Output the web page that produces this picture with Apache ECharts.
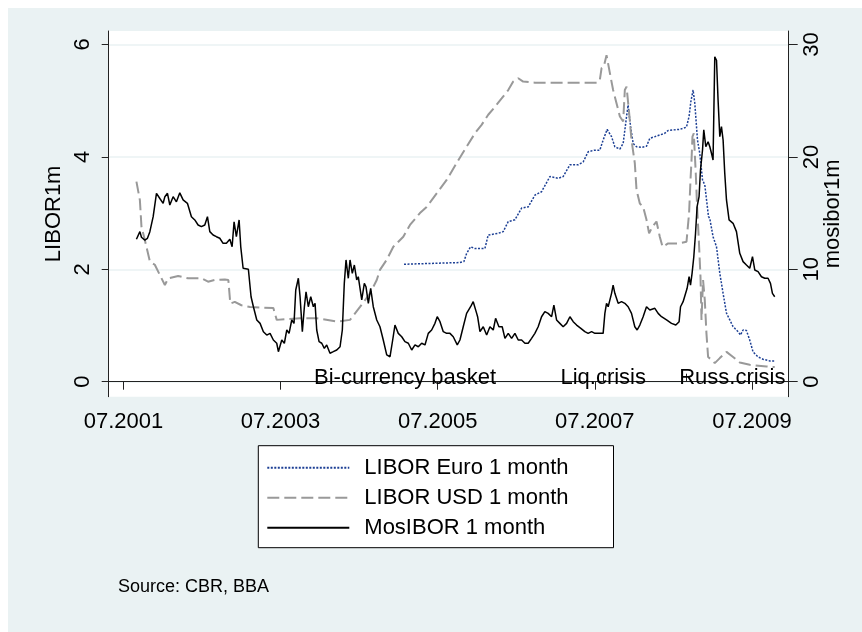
<!DOCTYPE html>
<html>
<head>
<meta charset="utf-8">
<script src="https://cdn.jsdelivr.net/npm/echarts@6.0.0/dist/echarts.min.js"></script>
<style>
  html, body { margin: 0; padding: 0; background: #fff; }
  #chart { position: absolute; left: 8px; top: 8px; width: 854px; height: 624px; }
</style>
</head>
<body>
<div id="chart"></div>
<script>
// time is in decimal years, rates in percent
const seriesNames = ['LIBOR Euro 1 month', 'LIBOR USD 1 month', 'MosIBOR 1 month']
const sourceNote = 'Source: CBR, BBA'

const xTicks = [2001.5, 2003.5, 2005.5, 2007.5, 2009.5]
const leftTicks = [0, 2, 4, 6]
const rightTicks = [0, 10, 20, 30]
const eventTimes = [2005.085, 2007.607, 2008.665]
const eventNames = ['Bi-currency basket', 'Liq.crisis', 'Russ.crisis']

const liborEuro = [
  [2005.071,2.09],[2005.783,2.12],[2005.834,2.14],[2005.868,2.28],[2005.919,2.4],[2005.974,2.37],
  [2006.101,2.37],[2006.143,2.61],[2006.27,2.64],[2006.334,2.67],[2006.398,2.85],[2006.483,2.88],
  [2006.568,3.09],[2006.652,3.11],[2006.737,3.32],[2006.822,3.38],[2006.928,3.65],[2007.034,3.62],
  [2007.097,3.65],[2007.183,3.86],[2007.288,3.86],[2007.352,3.91],[2007.415,4.09],[2007.492,4.12],
  [2007.564,4.12],[2007.606,4.3],[2007.657,4.49],[2007.713,4.36],[2007.755,4.18],[2007.819,4.14],
  [2007.861,4.24],[2007.904,4.72],[2007.924,4.92],[2007.955,4.54],[2007.988,4.24],[2008.031,4.18],
  [2008.095,4.17],[2008.158,4.19],[2008.2,4.33],[2008.264,4.36],[2008.327,4.39],[2008.391,4.42],
  [2008.433,4.47],[2008.497,4.48],[2008.582,4.49],[2008.667,4.53],[2008.7,4.72],[2008.722,4.98],
  [2008.751,5.19],[2008.773,4.95],[2008.807,4.3],[2008.836,4.06],[2008.871,3.59],[2008.9,3.5],
  [2008.921,3.25],[2008.947,2.94],[2008.964,2.9],[2009.005,2.58],[2009.049,2.4],[2009.091,1.93],
  [2009.133,1.57],[2009.176,1.22],[2009.218,1.1],[2009.26,0.98],[2009.324,0.89],[2009.354,0.83],
  [2009.387,0.92],[2009.43,0.91],[2009.472,0.74],[2009.514,0.53],[2009.578,0.44],[2009.641,0.4],
  [2009.727,0.37],[2009.79,0.37]
]

const liborUsd = [
  [2001.665,3.56],[2001.709,3.23],[2001.729,2.76],[2001.772,2.52],[2001.836,2.14],[2001.899,2.08],
  [2001.963,1.9],[2002.027,1.72],[2002.069,1.84],[2002.196,1.88],[2002.323,1.84],[2002.492,1.84],
  [2002.577,1.78],[2002.663,1.81],[2002.79,1.82],[2002.835,1.81],[2002.86,1.39],[2002.917,1.42],
  [2003.001,1.36],[2003.112,1.33],[2003.408,1.31],[2003.451,1.1],[2003.748,1.13],[2003.96,1.13],
  [2004.215,1.07],[2004.384,1.1],[2004.511,1.33],[2004.638,1.57],[2004.724,1.81],[2004.765,1.99],
  [2004.851,2.17],[2004.935,2.4],[2005.062,2.58],[2005.147,2.79],[2005.274,3.0],[2005.359,3.11],
  [2005.487,3.35],[2005.614,3.59],[2005.741,3.89],[2005.868,4.18],[2005.974,4.42],[2006.059,4.57],
  [2006.143,4.75],[2006.228,4.89],[2006.314,5.04],[2006.398,5.19],[2006.461,5.34],[2006.525,5.4],
  [2006.588,5.34],[2006.737,5.32],[2007.034,5.32],[2007.415,5.32],[2007.535,5.32],[2007.564,5.37],
  [2007.586,5.58],[2007.615,5.61],[2007.649,5.81],[2007.67,5.78],[2007.7,5.43],[2007.733,5.19],
  [2007.777,4.95],[2007.819,4.72],[2007.861,4.63],[2007.882,5.19],[2007.904,5.25],[2007.937,4.78],
  [2007.967,4.3],[2008.009,3.89],[2008.031,3.41],[2008.073,3.17],[2008.115,3.11],[2008.158,2.88],
  [2008.191,2.64],[2008.235,2.76],[2008.285,2.85],[2008.327,2.58],[2008.362,2.4],[2008.433,2.46],
  [2008.56,2.46],[2008.667,2.49],[2008.7,3.0],[2008.718,3.59],[2008.731,3.94],[2008.743,4.36],
  [2008.76,4.42],[2008.785,3.71],[2008.802,3.11],[2008.824,2.52],[2008.845,1.87],[2008.858,1.1],
  [2008.878,1.81],[2008.9,1.45],[2008.921,0.86],[2008.942,0.44],[2008.985,0.39],[2009.027,0.33],
  [2009.091,0.42],[2009.176,0.53],[2009.26,0.44],[2009.345,0.34],[2009.472,0.3],[2009.685,0.27],
  [2009.79,0.26]
]

const mosibor = [
  [2001.665,12.67],[2001.709,13.35],[2001.729,12.85],[2001.772,12.6],[2001.805,12.76],[2001.836,13.35],
  [2001.878,14.68],[2001.92,16.76],[2001.963,16.3],[2002.005,15.87],[2002.027,16.46],[2002.06,16.76],
  [2002.09,15.72],[2002.132,16.46],[2002.174,16.0],[2002.217,16.8],[2002.259,16.17],[2002.314,15.87],
  [2002.365,14.68],[2002.408,14.39],[2002.45,13.94],[2002.492,13.79],[2002.535,13.94],[2002.569,14.68],
  [2002.599,13.35],[2002.641,13.05],[2002.683,12.9],[2002.726,12.76],[2002.768,12.31],[2002.81,12.31],
  [2002.854,12.67],[2002.883,12.0],[2002.908,14.23],[2002.937,12.9],[2002.972,14.39],[2002.993,12.0],
  [2003.023,10.09],[2003.048,10.2],[2003.09,10.0],[2003.124,7.56],[2003.154,6.67],[2003.197,5.49],
  [2003.239,5.19],[2003.281,4.45],[2003.324,4.15],[2003.366,4.3],[2003.408,3.71],[2003.451,3.42],
  [2003.472,2.67],[2003.515,3.71],[2003.548,3.42],[2003.579,4.6],[2003.608,4.3],[2003.642,5.49],
  [2003.671,5.19],[2003.693,8.16],[2003.726,9.2],[2003.748,7.56],[2003.777,4.45],[2003.803,6.67],
  [2003.824,8.0],[2003.853,6.67],[2003.884,7.56],[2003.917,6.67],[2003.939,6.97],[2003.96,4.6],
  [2003.99,3.56],[2004.024,3.42],[2004.057,2.97],[2004.087,3.27],[2004.129,2.53],[2004.171,2.67],
  [2004.215,2.82],[2004.257,3.11],[2004.286,4.6],[2004.311,8.75],[2004.333,10.83],[2004.362,9.2],
  [2004.384,10.83],[2004.413,9.64],[2004.439,10.38],[2004.469,9.05],[2004.489,9.34],[2004.533,7.27],
  [2004.566,8.75],[2004.587,8.45],[2004.617,6.97],[2004.647,8.31],[2004.68,6.67],[2004.724,5.49],
  [2004.765,4.89],[2004.807,3.71],[2004.851,2.38],[2004.893,2.22],[2004.927,3.71],[2004.956,5.04],
  [2004.998,4.3],[2005.042,4.0],[2005.083,3.56],[2005.126,3.42],[2005.169,2.82],[2005.211,3.27],
  [2005.253,3.11],[2005.296,3.42],[2005.338,3.27],[2005.38,4.3],[2005.423,4.6],[2005.465,5.19],
  [2005.494,5.78],[2005.529,5.34],[2005.571,4.45],[2005.614,4.3],[2005.656,4.3],[2005.698,4.0],
  [2005.749,3.27],[2005.783,3.71],[2005.825,4.89],[2005.868,6.08],[2005.919,6.67],[2005.952,7.12],
  [2005.996,6.08],[2006.008,5.78],[2006.038,4.45],[2006.08,4.89],[2006.123,4.15],[2006.165,4.89],
  [2006.207,4.6],[2006.237,5.64],[2006.279,4.89],[2006.321,4.89],[2006.356,3.86],[2006.398,4.3],
  [2006.441,3.86],[2006.483,4.3],[2006.525,3.71],[2006.568,3.71],[2006.61,3.42],[2006.652,3.42],
  [2006.695,3.86],[2006.737,4.3],[2006.779,4.89],[2006.822,5.78],[2006.864,6.23],[2006.906,6.08],
  [2006.95,5.78],[2006.979,6.82],[2007.013,5.49],[2007.055,5.19],[2007.097,4.89],[2007.141,5.19],
  [2007.183,5.78],[2007.225,5.34],[2007.268,5.04],[2007.322,4.75],[2007.373,4.45],[2007.415,4.3],
  [2007.459,4.45],[2007.501,4.3],[2007.564,4.3],[2007.606,4.3],[2007.628,6.08],[2007.649,6.97],
  [2007.67,6.67],[2007.713,7.86],[2007.733,8.6],[2007.755,7.86],[2007.797,6.97],[2007.84,7.12],
  [2007.882,6.97],[2007.924,6.67],[2007.967,6.08],[2008.009,4.89],[2008.039,4.6],[2008.073,5.04],
  [2008.115,5.78],[2008.158,6.67],[2008.2,6.38],[2008.264,6.53],[2008.306,6.08],[2008.349,5.78],
  [2008.413,5.49],[2008.476,5.19],[2008.531,5.04],[2008.573,5.34],[2008.591,6.67],[2008.624,7.12],
  [2008.675,8.31],[2008.7,9.34],[2008.718,8.6],[2008.738,9.64],[2008.76,11.12],[2008.782,13.2],
  [2008.802,15.57],[2008.827,16.46],[2008.845,18.83],[2008.871,20.61],[2008.887,22.4],[2008.913,20.9],
  [2008.942,21.35],[2008.964,20.9],[2008.985,20.32],[2009.005,19.72],[2009.027,28.9],[2009.049,28.6],
  [2009.069,25.06],[2009.091,21.8],[2009.112,22.69],[2009.133,21.5],[2009.154,18.54],[2009.176,16.17],
  [2009.209,14.39],[2009.26,14.09],[2009.303,13.35],[2009.345,11.42],[2009.387,10.68],[2009.43,10.38],
  [2009.472,10.09],[2009.507,11.12],[2009.536,9.94],[2009.578,9.79],[2009.621,9.34],[2009.663,9.2],
  [2009.705,9.2],[2009.736,8.75],[2009.761,7.86],[2009.79,7.56]
]

const FONT = '"Liberation Sans", Arial, Helvetica, sans-serif'
const AXIS_COLOR = '#222'
const GRID_COLOR = '#EAF2F3'

// decimal year -> "MM.YYYY"
function monthYear(v) {
  let year = Math.floor(v + 1e-6)
  let month = Math.round((v - year) * 12) + 1
  return (month < 10 ? '0' : '') + month + '.' + year
}

let chart = echarts.init(document.getElementById('chart'))
chart.setOption({
  backgroundColor: GRID_COLOR,
  animation: false,
  textStyle: { fontFamily: FONT },
  title: {
    text: sourceNote,
    left: 110,
    top: 570,
    padding: 0,
    textStyle: { fontSize: 18, fontWeight: 'normal', color: '#000', fontFamily: FONT },
  },
  legend: {
    data: seriesNames,
    orient: 'vertical',
    left: 250.3,
    top: 437.7,
    backgroundColor: '#fff',
    borderColor: '#000',
    borderWidth: 1,
    borderRadius: 0,
    padding: [11, 45, 9, 8],
    itemWidth: 82,
    itemHeight: 14,
    itemGap: 8,
    selectedMode: false,
    itemStyle: { opacity: 0 }, // line keys only, no marker
    textStyle: { fontSize: 22, color: '#000', fontFamily: FONT, padding: [0, 0, 0, 10] },
  },
  grid: {
    left: 100.7,
    right: 73.3,
    top: 23,
    bottom: 235.3,
    show: true,
    backgroundColor: '#fff',
    borderWidth: 0,
    outerBoundsMode: 'none',
  },
  xAxis: [
    {
      type: 'value',
      position: 'bottom',
      min: 2001.312,
      max: 2009.968,
      axisLine: { show: true, lineStyle: { color: AXIS_COLOR, width: 1 } },
      axisTick: { show: true, customValues: xTicks, length: 8, lineStyle: { color: AXIS_COLOR } },
      axisLabel: {
        customValues: xTicks,
        formatter: monthYear,
        fontSize: 22,
        color: '#000',
        margin: 14,
        fontFamily: FONT,
      },
      splitLine: { show: false },
    },
    {
      // event markers drawn as inside ticks with labels
      type: 'value',
      position: 'bottom',
      min: 2001.312,
      max: 2009.968,
      axisLine: { show: false },
      axisTick: { show: true, inside: true, customValues: eventTimes, length: 8, lineStyle: { color: AXIS_COLOR } },
      axisLabel: {
        inside: true,
        customValues: eventTimes,
        margin: 8,
        fontSize: 22,
        color: '#000',
        fontFamily: FONT,
        formatter: function (v) {
          let i = eventTimes.findIndex(t => Math.abs(t - v) < 1e-6)
          if (i < 0) return ''
          // last label is pushed right so it stays inside the plot
          return i === eventTimes.length - 1 ? '{shift|' + eventNames[i] + '}' : eventNames[i]
        },
        rich: {
          shift: { fontSize: 22, color: '#000', fontFamily: FONT, padding: [0, 0, 0, 92] },
        },
      },
      splitLine: { show: false },
    },
  ],
  yAxis: [
    {
      type: 'value',
      position: 'left',
      min: -0.267,
      max: 6.24,
      name: 'LIBOR1m',
      nameLocation: 'middle',
      nameGap: 44,
      nameMoveOverlap: false,
      nameTextStyle: { fontSize: 22, color: '#000', fontFamily: FONT },
      axisLine: { show: true, lineStyle: { color: AXIS_COLOR, width: 1 } },
      axisTick: { show: true, customValues: leftTicks, length: 7, lineStyle: { color: AXIS_COLOR } },
      axisLabel: { customValues: leftTicks, rotate: 90, margin: 15, fontSize: 22, color: '#000', fontFamily: FONT },
      splitLine: { show: true, lineStyle: { color: GRID_COLOR, width: 1.5 } },
    },
    {
      type: 'value',
      position: 'right',
      min: -1.335,
      max: 31.2,
      name: 'mosibor1m',
      nameLocation: 'middle',
      nameGap: 33,
      nameMoveOverlap: false,
      nameTextStyle: { fontSize: 22, color: '#000', fontFamily: FONT },
      axisLine: { show: true, lineStyle: { color: AXIS_COLOR, width: 1 } },
      axisTick: { show: true, customValues: rightTicks, length: 9, lineStyle: { color: AXIS_COLOR } },
      axisLabel: { customValues: rightTicks, rotate: 90, margin: 12, fontSize: 22, color: '#000', fontFamily: FONT },
      splitLine: { show: false },
    },
  ],
  series: [
    {
      name: seriesNames[0],
      type: 'line',
      xAxisIndex: 0,
      yAxisIndex: 0,
      symbol: 'none',
      silent: true,
      color: '#1c3f94',
      lineStyle: { color: '#1c3f94', width: 1.5, type: [2, 1.5] },
      data: liborEuro,
    },
    {
      name: seriesNames[1],
      type: 'line',
      xAxisIndex: 0,
      yAxisIndex: 0,
      symbol: 'none',
      silent: true,
      color: '#999999',
      lineStyle: { color: '#999999', width: 2, type: [12, 5] },
      data: liborUsd,
    },
    {
      name: seriesNames[2],
      type: 'line',
      xAxisIndex: 0,
      yAxisIndex: 1,
      symbol: 'none',
      silent: true,
      color: '#000',
      lineStyle: { color: '#000', width: 1.5 },
      data: mosibor,
    },
  ],
})
</script>
</body>
</html>
